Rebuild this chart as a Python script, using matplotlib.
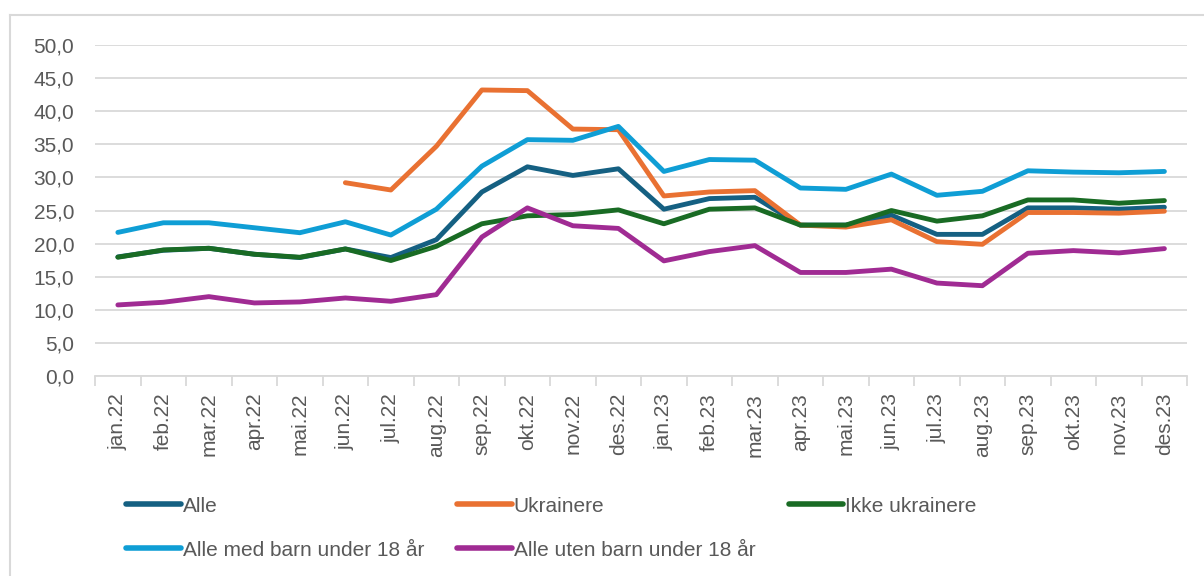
import numpy as np
import matplotlib
matplotlib.use("Agg")
import matplotlib.pyplot as plt
from matplotlib.lines import Line2D

months = ['jan.22', 'feb.22', 'mar.22', 'apr.22', 'mai.22', 'jun.22', 'jul.22', 'aug.22',
          'sep.22', 'okt.22', 'nov.22', 'des.22', 'jan.23', 'feb.23', 'mar.23', 'apr.23',
          'mai.23', 'jun.23', 'jul.23', 'aug.23', 'sep.23', 'okt.23', 'nov.23', 'des.23']

alle = [18.0, 19.0, 19.3, 18.4, 17.9, 19.2, 17.9, 20.6, 27.8, 31.6, 30.3, 31.3,
        25.2, 26.8, 27.0, 22.8, 22.8, 24.3, 21.4, 21.4, 25.4, 25.4, 25.2, 25.5]
ukrainere = [np.nan, np.nan, np.nan, np.nan, np.nan, 29.2, 28.1, 34.7, 43.2, 43.1, 37.3, 37.2,
             27.2, 27.8, 28.0, 22.8, 22.5, 23.6, 20.3, 19.9, 24.7, 24.7, 24.6, 24.9]
ikke_ukr = [17.95, 19.05, 19.3, 18.4, 17.95, 19.2, 17.45, 19.6, 23.0, 24.2, 24.4, 25.1,
            23.0, 25.2, 25.4, 22.8, 22.8, 25.0, 23.4, 24.2, 26.6, 26.6, 26.1, 26.5]
med_barn = [21.7, 23.15, 23.15, 22.4, 21.65, 23.3, 21.3, 25.2, 31.7, 35.7, 35.6, 37.7,
            30.9, 32.7, 32.6, 28.4, 28.2, 30.5, 27.3, 27.9, 31.0, 30.8, 30.7, 30.9]
uten_barn = [10.75, 11.15, 12.0, 11.05, 11.2, 11.8, 11.3, 12.3, 21.0, 25.4, 22.7, 22.3,
             17.4, 18.8, 19.7, 15.65, 15.65, 16.15, 14.05, 13.65, 18.55, 18.95, 18.6, 19.25]

series = [
    ('Alle', alle, '#156082'),
    ('Ukrainere', ukrainere, '#E97132'),
    ('Ikke ukrainere', ikke_ukr, '#196B24'),
    ('Alle med barn under 18 år', med_barn, '#0F9ED5'),
    ('Alle uten barn under 18 år', uten_barn, '#A02B93'),
]

plt.rcParams['font.family'] = ['Liberation Sans', 'DejaVu Sans']
grey = '#595959'
fs = 15

fig = plt.figure(figsize=(12.04, 5.76), dpi=100)
ax = fig.add_axes([0.079, 0.347, 0.907, 0.575])

x = np.arange(len(months))
lines = {}
for name, vals, col in series:
    l, = ax.plot(x, vals, color=col, lw=3.5, solid_capstyle='round', solid_joinstyle='round', label=name)
    lines[name] = l

ax.set_xlim(-0.5, len(months) - 0.5)
ax.set_ylim(0, 50)
ax.set_yticks(np.arange(0, 51, 5))
ax.set_yticklabels([f"{v:.1f}".replace('.', ',') for v in np.arange(0, 51, 5)], fontsize=fs, color=grey)
ax.yaxis.grid(True, color='#D9D9D9', lw=1.3)
ax.set_axisbelow(True)
ax.tick_params(axis='y', length=0, pad=15)

ax.set_xticks(x)
ax.set_xticklabels(months, rotation=90, fontsize=fs, color=grey)
ax.set_xticks(np.arange(-0.5, len(months), 1), minor=True)
ax.tick_params(axis='x', which='major', length=0, pad=12)
ax.tick_params(axis='x', which='minor', length=7, color='#D9D9D9', width=1.3)

for s in ['top', 'right', 'left']:
    ax.spines[s].set_visible(False)
ax.spines['bottom'].set_color('#D9D9D9')
ax.spines['bottom'].set_linewidth(1.3)

order = ['Alle', 'Alle med barn under 18 år', 'Ukrainere', 'Alle uten barn under 18 år', 'Ikke ukrainere']
leg = fig.legend([lines[n] for n in order], order, ncol=3, loc='upper left',
                 bbox_to_anchor=(0.105, 0.138), frameon=False, fontsize=fs,
                 handlelength=2.6, handletextpad=0.1, columnspacing=1.6, labelspacing=1.2,
                 borderaxespad=0, borderpad=0)
for t in leg.get_texts():
    t.set_color(grey)
for h in leg.legend_handles:
    h.set_linewidth(4)

# chart frame (left and top edges visible)
fig.add_artist(Line2D([10 / 1204, 10 / 1204], [0, 1 - 15 / 576], transform=fig.transFigure,
                      color='#D9D9D9', lw=1.5))
fig.add_artist(Line2D([10 / 1204, 1], [1 - 15 / 576, 1 - 15 / 576], transform=fig.transFigure,
                      color='#D9D9D9', lw=1.5))

fig.savefig('out.png', dpi=100)
